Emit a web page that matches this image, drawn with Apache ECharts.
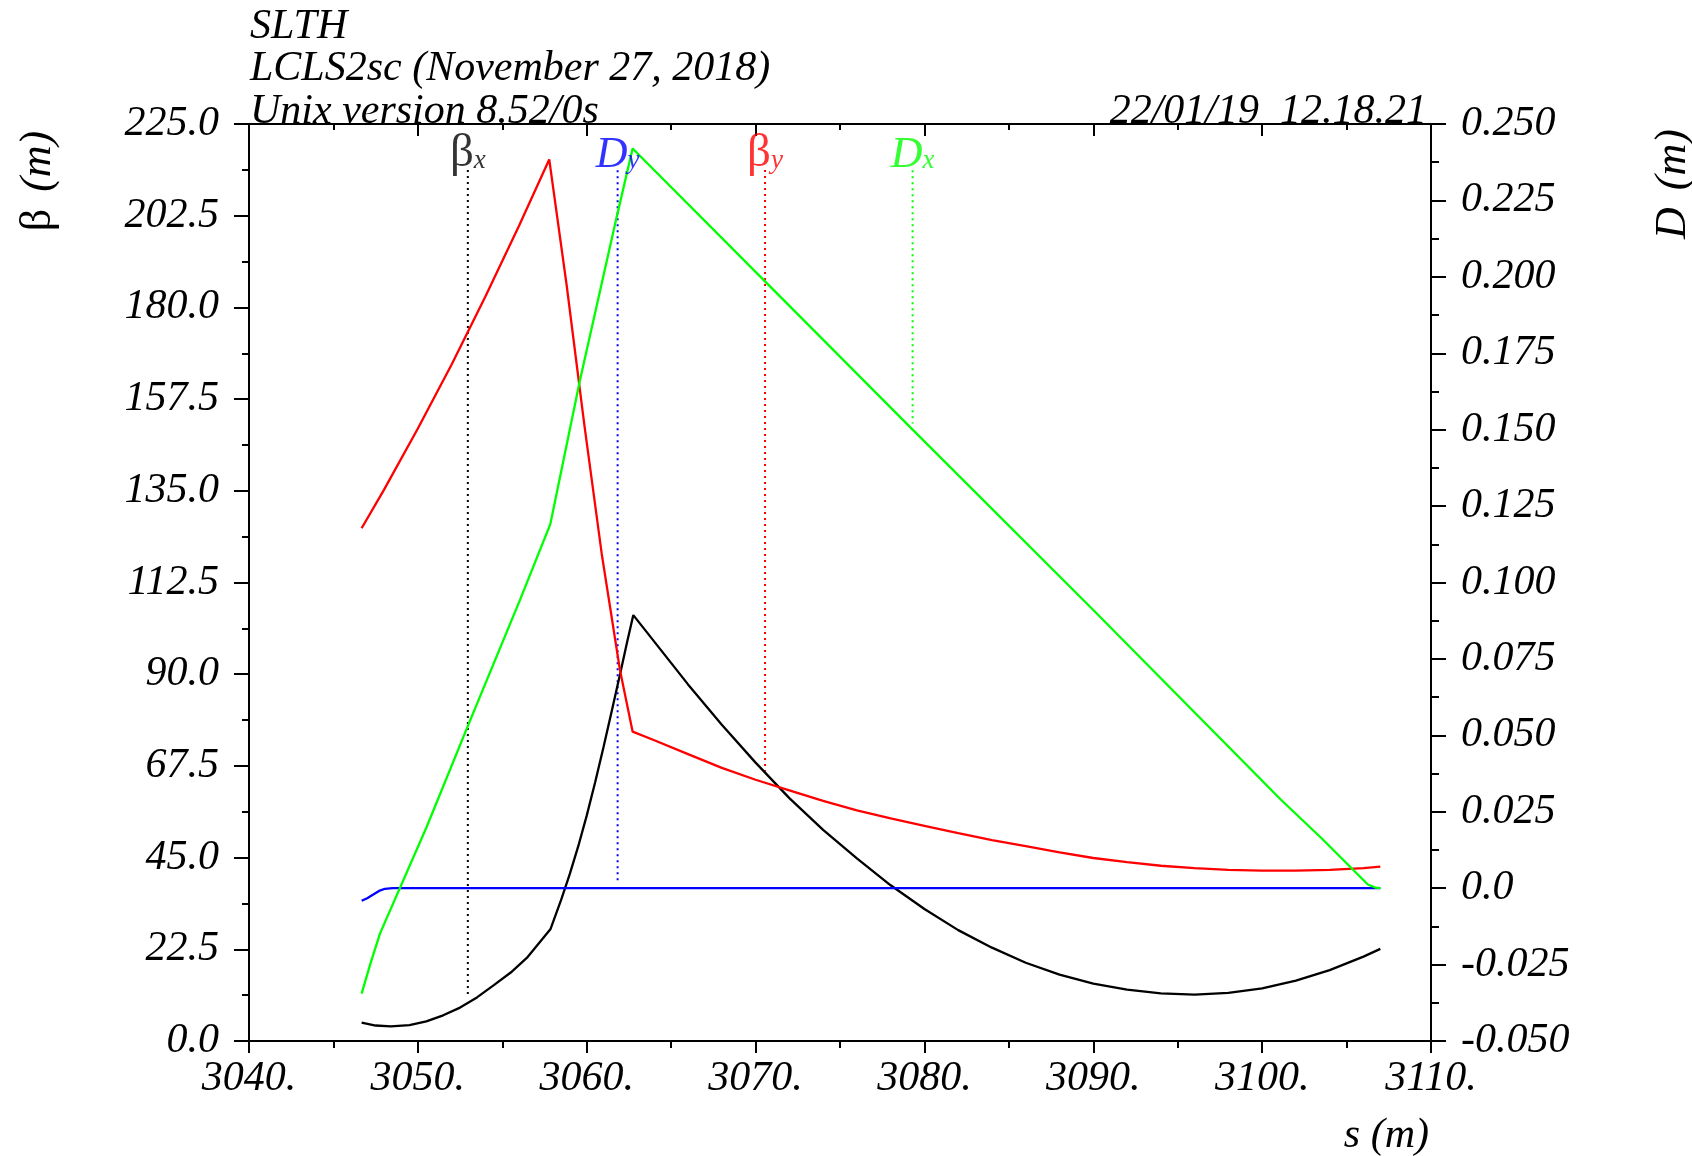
<!DOCTYPE html>
<html lang="en">
<head>
<meta charset="UTF-8">
<title>SLTH - LCLS2sc optics</title>
<script src="https://cdn.jsdelivr.net/npm/echarts@6.0.0/dist/echarts.min.js"></script>
<style>
  html, body { margin: 0; padding: 0; background: #fff; }
  #chart { width: 1692px; height: 1156px; }
</style>
</head>
<body>
<div id="chart"></div>
<script>
  // beta_x (black, left axis)
  var sBetaX = [3046.67, 3047.5, 3048.4, 3049.5, 3050.5, 3051.5, 3052.5, 3053.5, 3054.5, 3055.5,
                3056.5, 3057.86, 3058.5, 3059.0, 3059.5, 3060.0, 3060.5, 3061.0, 3061.5, 3062.0,
                3062.4, 3062.76, 3064.0, 3066.0, 3068.0, 3070.0, 3072.0, 3074.0, 3076.0, 3078.0,
                3080.0, 3082.0, 3084.0, 3086.0, 3088.0, 3090.0, 3092.0, 3094.0, 3096.0, 3098.0,
                3100.0, 3102.0, 3104.0, 3106.0, 3107.0];
  var betaX = [4.5, 3.8, 3.6, 3.9, 4.8, 6.3, 8.2, 10.7, 13.7, 16.8,
               20.6, 27.5, 34.8, 41.0, 47.8, 55.3, 63.5, 72.2, 81.3, 90.5,
               98.0, 104.5, 98.0, 87.5, 77.6, 68.3, 59.6, 51.8, 44.8, 38.2,
               32.4, 27.2, 22.9, 19.2, 16.3, 14.1, 12.6, 11.7, 11.4, 11.8,
               12.9, 14.8, 17.4, 20.7, 22.6];

  // beta_y (red, left axis)
  var sBetaY = [3046.67, 3048.0, 3050.0, 3052.0, 3054.0, 3056.0, 3057.78, 3058.81, 3059.85, 3060.89,
                3061.97, 3062.72, 3064.0, 3066.0, 3068.0, 3070.0, 3072.0, 3074.0, 3076.0, 3078.0,
                3080.0, 3082.0, 3084.0, 3086.0, 3088.0, 3090.0, 3092.0, 3094.0, 3096.0, 3098.0,
                3100.0, 3102.0, 3104.0, 3106.0, 3107.0];
  var betaY = [125.8, 135.3, 150.3, 166.0, 182.7, 200.1, 216.3, 185.5, 151.5, 119.5,
               91.0, 75.9, 73.8, 70.4, 67.0, 64.1, 61.5, 58.9, 56.6, 54.6,
               52.8, 51.0, 49.3, 47.8, 46.3, 44.9, 43.9, 43.0, 42.4, 42.0,
               41.8, 41.8, 42.0, 42.4, 42.8];

  // D_x (green, right axis)
  var sDx = [3046.67, 3047.2, 3047.76, 3050.52, 3053.09, 3056.05, 3057.84, 3059.6, 3061.78, 3062.72,
             3070.56, 3079.3, 3090.0, 3101.1, 3103.58, 3106.26, 3106.7, 3107.0];
  var dX = [-0.0345, -0.0245, -0.0148, 0.0200, 0.0548, 0.0943, 0.1190, 0.1662, 0.2197, 0.2420,
            0.1985, 0.1500, 0.0910, 0.0290, 0.0160, 0.0012, 0.0002, 0.0];

  // D_y (blue, right axis)
  var sDy = [3046.67, 3047.0, 3047.36, 3047.7, 3048.05, 3048.5, 3107.0];
  var dY = [-0.0041, -0.0033, -0.0021, -0.0009, -0.0002, 0.0, 0.0];

  // curve markers at the top: position, axis, dotted line top / end, label
  var markerS = [3052.96, 3061.83, 3070.56, 3079.30];
  var markerAxis = [0, 1, 0, 1];
  var markerTop = [213.7, 0.2349, 213.7, 0.2349];
  var markerEnd = [10.8, 0.0015, 66.1, 0.152];
  var markerMain = ['β', 'D', 'β', 'D'];
  var markerSub = ['x', 'y', 'y', 'x'];
  var markerColor = ['#000000', '#0000ff', '#ff0000', '#00ff00'];

  var headerLines = ['SLTH', 'LCLS2sc (November 27, 2018)', 'Unix version 8.52/0s'];
  var dateText = '22/01/19  12.18.21';

  var serif = "'Liberation Serif', 'Times New Roman', serif";
  var fs = 42;

  function pairs(xs, ys) {
    return xs.map(function (x, i) { return [x, ys[i]]; });
  }

  function curve(name, xs, ys, axis, color) {
    return {
      name: name, type: 'line', yAxisIndex: axis, data: pairs(xs, ys),
      showSymbol: false, symbol: 'none', smooth: false,
      lineStyle: { color: color, width: 2.3 }, z: 3
    };
  }

  var series = [
    curve('betax', sBetaX, betaX, 0, '#000000'),
    curve('betay', sBetaY, betaY, 0, '#ff0000'),
    curve('Dy', sDy, dY, 1, '#0000ff'),
    curve('Dx', sDx, dX, 1, '#00ff00')
  ];

  // dotted marker lines
  markerS.forEach(function (s, i) {
    series.push({
      type: 'line', yAxisIndex: markerAxis[i], symbol: 'none', showSymbol: false,
      data: [[s, markerTop[i]], [s, markerEnd[i]]],
      lineStyle: { color: markerColor[i], width: 2, type: [2, 4] }, z: 2
    });
  });

  // marker labels
  series.push({
    type: 'scatter', yAxisIndex: 0, symbolSize: 0, z: 4,
    itemStyle: { color: 'transparent' },
    data: markerS.map(function (s, i) {
      return {
        value: [s, 213.7],
        label: {
          show: true, position: 'top', distance: 0, offset: [0, 7],
          formatter: '{' + (markerMain[i] === 'β' ? 'b' : 'd') + '|' + markerMain[i] + '}{s|' + markerSub[i] + '}',
          rich: {
            b: { fontFamily: serif, fontSize: 47, fontStyle: 'normal', color: markerColor[i], verticalAlign: 'bottom' },
            d: { fontFamily: serif, fontSize: 44, fontStyle: 'italic', color: markerColor[i], verticalAlign: 'bottom' },
            s: { fontFamily: serif, fontSize: 27, fontStyle: 'italic', color: markerColor[i], verticalAlign: 'bottom', padding: [0, 0, 3, 0] }
          }
        }
      };
    })
  });

  var axisLine = { show: true, onZero: false, lineStyle: { color: '#000', width: 2 } };
  var labelStyle = { fontFamily: serif, fontStyle: 'italic', fontSize: fs, color: '#000' };

  var graphics = headerLines.map(function (t, i) {
    return {
      type: 'text', x: 250, y: 41 + i * 42.5 - 0.3375 * fs,
      style: { text: t, fontFamily: serif, fontStyle: 'italic', fontSize: fs, fill: '#000', align: 'left', verticalAlign: 'middle' }
    };
  });
  graphics.push({
    type: 'text', x: 1427, y: 126 - 0.3375 * fs,
    style: { text: dateText, fontFamily: serif, fontStyle: 'italic', fontSize: fs, fill: '#000', align: 'right', verticalAlign: 'middle' }
  });
  graphics.push({
    type: 'text', x: 1429, y: 1150 - 0.3375 * fs,
    style: { text: 's (m)', fontFamily: serif, fontStyle: 'italic', fontSize: fs, fill: '#000', align: 'right', verticalAlign: 'middle' }
  });
  graphics.push({
    type: 'text', x: 38, y: 181, rotation: Math.PI / 2,
    style: {
      text: '{a|β} {b|(m)}', fontFamily: serif, fontSize: 44, fill: '#000', align: 'center', verticalAlign: 'middle',
      rich: {
        a: { fontFamily: serif, fontSize: 44, fontStyle: 'normal' },
        b: { fontFamily: serif, fontSize: 44, fontStyle: 'italic', padding: [0, 0, 0, 6] }
      }
    }
  });
  graphics.push({
    type: 'text', x: 1673, y: 184, rotation: Math.PI / 2,
    style: {
      text: '{a|D} {b|(m)}', fontFamily: serif, fontSize: 44, fill: '#000', align: 'center', verticalAlign: 'middle',
      rich: {
        a: { fontFamily: serif, fontSize: 44, fontStyle: 'italic' },
        b: { fontFamily: serif, fontSize: 44, fontStyle: 'italic', padding: [0, 0, 0, 6] }
      }
    }
  });

  var chart = echarts.init(document.getElementById('chart'));
  chart.setOption({
    animation: false,
    backgroundColor: '#fff',
    grid: { left: 249, right: 261, top: 124, bottom: 115, containLabel: false },
    xAxis: [{
      type: 'value', position: 'bottom', min: 3040, max: 3110, interval: 10,
      axisLine: axisLine,
      axisTick: { show: true, inside: false, length: 12, lineStyle: { color: '#000', width: 2 } },
      minorTick: { show: true, splitNumber: 2, length: 7, lineStyle: { color: '#000', width: 2 } },
      axisLabel: Object.assign({ margin: 17, formatter: function (v) { return v + '.'; } }, labelStyle),
      splitLine: { show: false }
    }, {
      type: 'value', position: 'top', min: 3040, max: 3110, interval: 10,
      axisLine: axisLine,
      axisTick: { show: true, inside: true, length: 12, lineStyle: { color: '#000', width: 2 } },
      minorTick: { show: true, splitNumber: 2, length: 6, lineStyle: { color: '#000', width: 2 } },
      axisLabel: { show: false },
      splitLine: { show: false }
    }],
    yAxis: [{
      type: 'value', position: 'left', min: 0, max: 225, interval: 22.5,
      axisLine: axisLine,
      axisTick: { show: true, inside: false, length: 15, lineStyle: { color: '#000', width: 2 } },
      minorTick: { show: true, splitNumber: 2, length: 7, lineStyle: { color: '#000', width: 2 } },
      axisLabel: Object.assign({ margin: 30, formatter: function (v) { return v.toFixed(1); } }, labelStyle),
      splitLine: { show: false }
    }, {
      type: 'value', position: 'right', min: -0.05, max: 0.25, interval: 0.025,
      axisLine: axisLine,
      axisTick: { show: true, inside: false, length: 15, lineStyle: { color: '#000', width: 2 } },
      minorTick: { show: true, splitNumber: 2, length: 8, lineStyle: { color: '#000', width: 2 } },
      axisLabel: Object.assign({ margin: 30, formatter: function (v) { return Math.abs(v) < 1e-9 ? '0.0' : v.toFixed(3); } }, labelStyle),
      splitLine: { show: false }
    }],
    graphic: graphics,
    series: series
  });
</script>
</body>
</html>
